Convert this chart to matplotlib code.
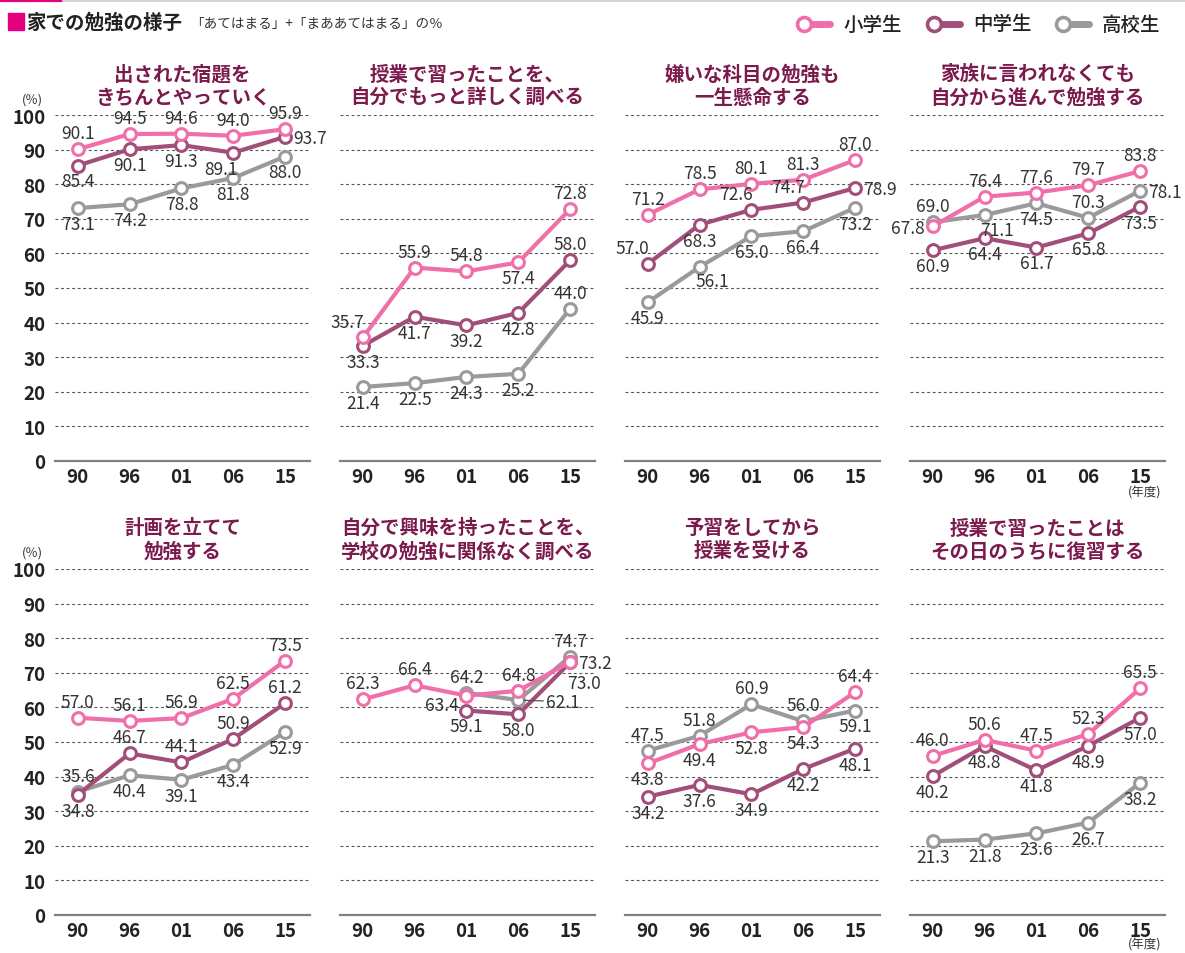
import matplotlib
matplotlib.use('Agg')
import matplotlib.pyplot as plt
import numpy as np
from matplotlib.patches import Rectangle

plt.rcParams['font.family'] = ['Noto Sans CJK JP', 'DejaVu Sans']

# data
years = ['90', '96', '01', '06', '15']
groups = ['小学生', '中学生', '高校生']
titles = [
    '出された宿題を\nきちんとやっていく',
    '授業で習ったことを、\n自分でもっと詳しく調べる',
    '嫌いな科目の勉強も\n一生懸命する',
    '家族に言われなくても\n自分から進んで勉強する',
    '計画を立てて\n勉強する',
    '自分で興味を持ったことを、\n学校の勉強に関係なく調べる',
    '予習をしてから\n授業を受ける',
    '授業で習ったことは\nその日のうちに復習する',
]
nan = np.nan
elem = [
    [90.1, 94.5, 94.6, 94.0, 95.9],
    [35.7, 55.9, 54.8, 57.4, 72.8],
    [71.2, 78.5, 80.1, 81.3, 87.0],
    [67.8, 76.4, 77.6, 79.7, 83.8],
    [57.0, 56.1, 56.9, 62.5, 73.5],
    [62.3, 66.4, 63.4, 64.8, 73.2],
    [43.8, 49.4, 52.8, 54.3, 64.4],
    [46.0, 50.6, 47.5, 52.3, 65.5],
]
junior = [
    [85.4, 90.1, 91.3, 89.1, 93.7],
    [33.3, 41.7, 39.2, 42.8, 58.0],
    [57.0, 68.3, 72.6, 74.7, 78.9],
    [60.9, 64.4, 61.7, 65.8, 73.5],
    [34.8, 46.7, 44.1, 50.9, 61.2],
    [nan, nan, 59.1, 58.0, 73.0],
    [34.2, 37.6, 34.9, 42.2, 48.1],
    [40.2, 48.8, 41.8, 48.9, 57.0],
]
high = [
    [73.1, 74.2, 78.8, 81.8, 88.0],
    [21.4, 22.5, 24.3, 25.2, 44.0],
    [45.9, 56.1, 65.0, 66.4, 73.2],
    [69.0, 71.1, 74.5, 70.3, 78.1],
    [35.6, 40.4, 39.1, 43.4, 52.9],
    [nan, nan, 64.2, 62.1, 74.7],
    [47.5, 51.8, 60.9, 56.0, 59.1],
    [21.3, 21.8, 23.6, 26.7, 38.2],
]

# label placement: a=above b=below r=right l=left, al/bl/br corners,
# lb=left and a bit lower, rl=right with leader line
elem_pos = [
    ['a', 'a', 'a', 'a', 'a'],
    ['al', 'a', 'a', 'b', 'a'],
    ['a', 'a', 'a', 'a', 'a'],
    ['l', 'a', 'a', 'a', 'a'],
    ['a', 'a', 'a', 'a', 'a'],
    ['a', 'a', 'lb', 'a', 'r'],
    ['b', 'b', 'b', 'b', 'a'],
    ['a', 'a', 'a', 'a', 'a'],
]
junior_pos = [
    ['b', 'b', 'b', 'bl', 'r'],
    ['b', 'b', 'b', 'b', 'a'],
    ['al', 'b', 'al', 'al', 'r'],
    ['b', 'b', 'b', 'b', 'b'],
    ['b', 'a', 'a', 'a', 'a'],
    ['', '', 'b', 'b', 'bb'],
    ['b', 'b', 'b', 'b', 'b'],
    ['b', 'b', 'b', 'b', 'b'],
]
high_pos = [
    ['b', 'b', 'b', 'b', 'b'],
    ['b', 'b', 'b', 'b', 'a'],
    ['b', 'br', 'b', 'b', 'b'],
    ['a', 'br', 'b', 'a', 'r'],
    ['a', 'b', 'b', 'b', 'b'],
    ['', '', 'a', 'rl', 'a'],
    ['a', 'a', 'a', 'a', 'b'],
    ['b', 'b', 'b', 'b', 'b'],
]

colors = ['#f06ea9', '#a24e7b', '#9a9a9c']
title_color = '#7b1a4c'
text_color = '#333333'

W, H = 1185, 954
fig = plt.figure(figsize=(W / 100, H / 100), dpi=100)

offsets = {
    'a': ((0, 5), 'center', 'bottom'),
    'b': ((0, -5), 'center', 'top'),
    'r': ((6, -1), 'left', 'center'),
    'l': ((-6, -1), 'right', 'center'),
    'al': ((-11, 5), 'center', 'bottom'),
    'bl': ((-9, -5), 'center', 'top'),
    'br': ((9, -4), 'center', 'top'),
    'bb': ((10, -8), 'center', 'top'),
    'lb': ((-6, -7), 'right', 'center'),
}

x = np.arange(len(years))
for i in range(8):
    r, c = divmod(i, 4)
    left = 55 + 285 * c
    bottom = 462 + 454 * r
    ax = fig.add_axes([left / W, 1 - bottom / H, 255 / W, 346 / H])
    ax.set_xlim(-0.44, 4.48)
    ax.set_ylim(0, 100)
    ax.set_yticks(range(0, 101, 10))
    ax.set_xticks(x)
    ax.set_xticklabels(years)
    ax.yaxis.grid(True, linestyle=(0, (2.6, 2.4)), color='#555555', linewidth=0.8)
    ax.set_axisbelow(True)
    for s in ['top', 'right', 'left']:
        ax.spines[s].set_visible(False)
    ax.spines['bottom'].set_color('#808080')
    ax.spines['bottom'].set_linewidth(1.6)
    ax.tick_params(length=0, labelsize=13.5, labelcolor='#222222')
    ax.tick_params(axis='x', pad=4)
    ax.tick_params(axis='y', pad=7, labelleft=(c == 0))
    for lab in ax.get_xticklabels() + ax.get_yticklabels():
        lab.set_fontweight('bold')

    ax.set_title(titles[i], fontsize=14, fontweight='bold', color=title_color,
                 linespacing=1.25, pad=9)

    series = [high[i], junior[i], elem[i]]
    places = [high_pos[i], junior_pos[i], elem_pos[i]]
    cols = [colors[2], colors[1], colors[0]]
    for vals, pos, col in zip(series, places, cols):
        vals = np.array(vals)
        ax.plot(x, vals, color=col, linewidth=3, marker='o', markersize=8.5,
                markerfacecolor='white', markeredgecolor=col, markeredgewidth=2.2,
                clip_on=False, zorder=3)
        for xi, v, p in zip(x, vals, pos):
            if np.isnan(v):
                continue
            if p == 'rl':
                ax.annotate(f'{v:.1f}', (xi, v), xytext=(20, -1), textcoords='offset points',
                            ha='left', va='center', fontsize=12.5, color=text_color,
                            arrowprops=dict(arrowstyle='-', color='#555555', lw=0.9,
                                            shrinkA=0, shrinkB=4), zorder=5)
                continue
            off, ha, va = offsets[p]
            ax.annotate(f'{v:.1f}', (xi, v), xytext=off, textcoords='offset points',
                        ha=ha, va=va, fontsize=12.5, color=text_color, zorder=5)

# overlay for header, legend and notes
ov = fig.add_axes([0, 0, 1, 1], zorder=10)
ov.set_xlim(0, W)
ov.set_ylim(H, 0)
ov.axis('off')

ov.plot([0, W], [1, 1], color='#d0d0d0', linewidth=2)
ov.plot([0, 60], [1, 1], color='#e4007f', linewidth=3)
ov.add_patch(Rectangle((8, 14), 16, 17, color='#e4007f'))
ov.text(26, 23, '家での勉強の様子', fontsize=14, fontweight='bold', color='#222222',
        va='center', ha='left')
ov.text(190, 24, '「あてはまる」+「まああてはまる」の％', fontsize=9.8, color=text_color,
        va='center', ha='left')

leg_x = [804, 934, 1063]
for lx, g, col in zip(leg_x, groups, colors):
    ov.plot([lx, lx + 26], [25, 25], color=col, linewidth=5, solid_capstyle='round')
    ov.plot(lx, 25, 'o', markersize=10, markerfacecolor='white', markeredgecolor=col,
            markeredgewidth=2.6)
    ov.text(lx + 39, 25, g, fontsize=14, fontweight='medium', color='#222222',
            va='center', ha='left')

for yy in [100, 553]:
    ov.text(32, yy, '(％)', fontsize=9, color=text_color, ha='center', va='center')
for yy in [493, 945]:
    ov.text(1145, yy, '(年度)', fontsize=9, color=text_color, ha='center', va='center')

plt.savefig('out.png', dpi=100)
